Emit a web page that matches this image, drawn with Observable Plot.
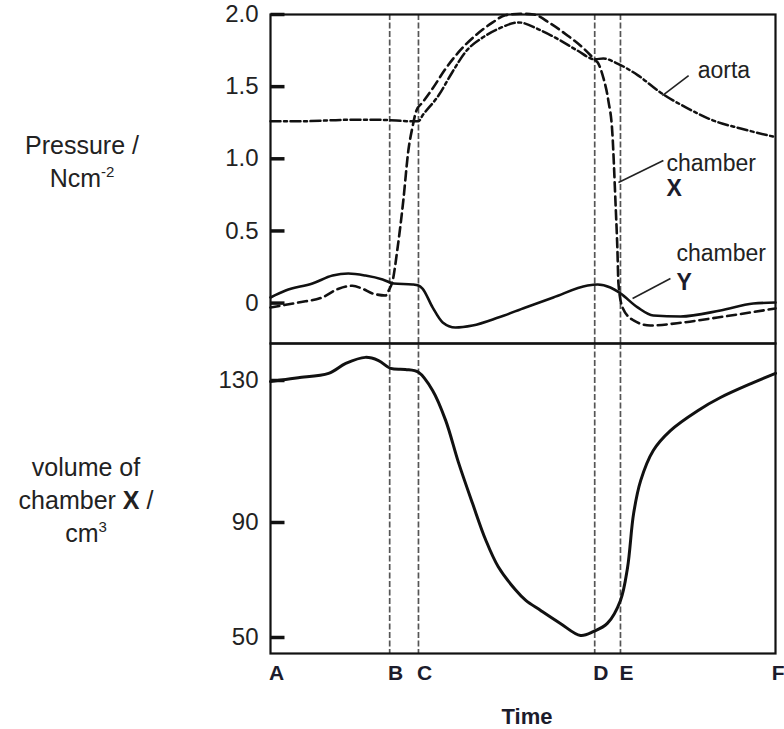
<!DOCTYPE html>
<html><head><meta charset="utf-8">
<script src="https://cdn.jsdelivr.net/npm/d3@7"></script>
<script src="https://cdn.jsdelivr.net/npm/@observablehq/plot@0.6"></script>
<style>
body{margin:0;background:#fff;font-family:"Liberation Sans",Arial,sans-serif;}
#wrap{position:relative;width:784px;height:729px;overflow:hidden;}
#top,#bot{position:absolute;left:0;}
#top{top:0;} #bot{top:343px;}
.lab{position:absolute;text-align:center;color:#222;font-size:25px;line-height:33px;white-space:nowrap;}
.lab sup{font-size:15px;vertical-align:0;position:relative;top:-10px;}
#time{position:absolute;left:467px;width:120px;top:704px;text-align:center;font-weight:bold;font-size:22px;color:#1c1c2c;}
</style></head><body>
<div id="wrap">
<div id="top"></div><div id="bot"></div>
<div class="lab" style="left:12px;top:129px;width:140px">Pressure /<br>Ncm<sup>-2</sup></div>
<div class="lab" style="left:6px;top:451px;width:160px">volume of<br>chamber <b>X</b> /<br>cm<sup>3</sup></div>
<div id="time">Time</div>
</div>
<script>
// ---- data (time in arbitrary units, A = 0 … F = 100) ----
const phaseT = [23.6, 29.3, 64.2, 69.3];               // B, C, D, E
const xTickPos = [0, 23.6, 29.3, 64.2, 69.3, 100];
const xTickLabels = ["A", "B", "C", "D", "E", "F"];
const pTicks = [0, 0.5, 1.0, 1.5, 2.0];
const pTickLabels = ["0", "0.5", "1.0", "1.5", "2.0"];
const vTicks = [50, 90, 130];

// aorta pressure / N cm^-2
const tAorta = [0, 5.9, 15.4, 21.8, 28.1, 29.3, 30.1, 33.3, 36.0, 38.6, 42.0, 45.1, 49.1, 53.5, 57.4, 60.8, 64.2, 65.9, 68.7, 72.7, 77.2, 82.6, 87.7, 93.1, 100];
const pAorta = [1.26, 1.26, 1.27, 1.27, 1.26, 1.26, 1.30, 1.44, 1.60, 1.74, 1.84, 1.90, 1.945, 1.89, 1.82, 1.75, 1.69, 1.695, 1.66, 1.58, 1.46, 1.35, 1.265, 1.21, 1.15];

// chamber X pressure
const tChamberX = [0, 5.5, 10.3, 13.5, 16.2, 18.2, 20.2, 22.8, 23.4, 24.2, 25.1, 26.3, 27.3, 28.1, 28.9, 30.1, 32.1, 34.7, 37.2, 40.6, 44.0, 46.5, 49.5, 52.1, 55.4, 58.8, 62.0, 64.2, 64.8, 65.9, 66.9, 67.7, 68.3, 68.7, 68.9, 69.7, 71.9, 75.2, 81.8, 88.5, 95.0, 100];
const pChamberX = [-0.03, 0.004, 0.04, 0.10, 0.12, 0.10, 0.067, 0.053, 0.087, 0.157, 0.365, 0.711, 1.058, 1.217, 1.335, 1.39, 1.487, 1.626, 1.737, 1.855, 1.945, 1.995, 2.005, 2.0, 1.938, 1.855, 1.765, 1.688, 1.667, 1.563, 1.403, 1.175, 0.711, 0.365, 0.136, -0.03, -0.12, -0.155, -0.134, -0.10, -0.065, -0.037];

// chamber Y pressure
const tChamberY = [0, 3.0, 8.3, 12.3, 15.4, 18.8, 22.2, 24.4, 28.1, 29.3, 30.1, 32.1, 34.1, 36.6, 40.0, 45.1, 50.5, 56.0, 62.8, 64.8, 67.3, 69.3, 72.7, 75.8, 81.2, 89.1, 95.6, 100];
const pChamberY = [0.039, 0.087, 0.136, 0.191, 0.205, 0.191, 0.164, 0.136, 0.129, 0.122, 0.101, -0.03, -0.134, -0.169, -0.155, -0.10, -0.03, 0.039, 0.122, 0.129, 0.108, 0.067, -0.03, -0.086, -0.093, -0.051, -0.003, 0.004];

// volume of chamber X / cm^3
const tVolume = [0, 3.0, 5.5, 11.5, 14.9, 18.8, 21.4, 23.8, 26.7, 29.3, 32.1, 34.7, 37.2, 40.0, 42.6, 45.1, 48.5, 50.5, 53.5, 57.4, 61.4, 64.0, 66.7, 69.3, 70.7, 71.9, 73.3, 75.8, 79.2, 84.6, 89.1, 95.6, 100];
const vVolume = [129.7, 130.3, 130.8, 132.0, 134.8, 136.5, 135.6, 133.4, 133.1, 132.3, 127.2, 118.7, 107.0, 95.4, 84.0, 74.6, 66.6, 63.0, 59.4, 54.9, 50.7, 52.1, 54.9, 62.9, 74.3, 92.5, 101.8, 110.3, 115.9, 121.5, 125.2, 129.4, 132.0];

// annotations
const labelNames = ["aorta", "chamber", "chamber"];
const labelT = [84.6, 78.4, 80.4];
const labelP = [1.61, 0.967, 0.344];
const boldNames = ["X", "Y"];
const boldT = [78.4, 80.4];
const boldP = [0.794, 0.143];
const leaderT1 = [77.6, 68.9, 71.7], leaderP1 = [1.438, 0.836, 0.032];
const leaderT2 = [82.8, 77.8, 79.2], leaderP2 = [1.577, 0.988, 0.17];

// ---- build tables ----
const rows = (ts, vs) => ts.map((t, i) => ({t, v: vs[i]}));
const aorta = rows(tAorta, pAorta);
const chX = rows(tChamberX, pChamberX);
const chY = rows(tChamberY, pChamberY);
const vol = rows(tVolume, vVolume);
const labels = labelNames.map((s, i) => ({s, t: labelT[i], v: labelP[i]}));
const bolds = boldNames.map((s, i) => ({s, t: boldT[i], v: boldP[i]}));
const leaders = leaderT1.map((t, i) => ({t1: t, v1: leaderP1[i], t2: leaderT2[i], v2: leaderP2[i]}));
const xTicksInner = xTickPos.slice(0, -1).map((t, i) => ({t, s: xTickLabels[i]}));
const xTickLast = [{t: xTickPos[xTickPos.length - 1], s: xTickLabels[xTickLabels.length - 1]}];
const pLab = new Map(pTicks.map((p, i) => [p, pTickLabels[i]]));

const FONT = "'Liberation Sans', Arial, sans-serif";
const INK = "#111";
const guide = {stroke: "#555", strokeWidth: 1.7, strokeDasharray: "6,2.5"};
// inward tick shape: a plain stroke of the vector's length
const stroke = {draw(context, l) { context.moveTo(0, 0); context.lineTo(0, -l); }};
const inTick = {frameAnchor: "left", rotate: 90, length: 14, anchor: "start", shape: stroke, stroke: INK, strokeWidth: 3.5, strokeLinecap: "butt"};

const topPlot = Plot.plot({
  width: 784, height: 343,
  marginLeft: 270, marginRight: 9, marginTop: 14, marginBottom: 0,
  x: {domain: [0, 100], axis: null},
  y: {domain: [-0.28, 2.0]},
  style: {fontSize: "24px", fontFamily: FONT, color: "#222", overflow: "visible", background: "transparent"},
  marks: [
    Plot.ruleX(phaseT, guide),
    Plot.vector(pTicks, {y: d => d, ...inTick}),
    Plot.axisY(pTicks, {tickSize: 0, tickPadding: 12, fill: "#222", tickFormat: d => pLab.get(d), label: null}),
    Plot.line(aorta, {x: "t", y: "v", curve: "monotone-x", stroke: INK, strokeWidth: 2.5, strokeDasharray: "10,3.5,3,3.5"}),
    Plot.line(chX, {x: "t", y: "v", curve: "monotone-x", stroke: INK, strokeWidth: 2.6, strokeDasharray: "9,5"}),
    Plot.line(chY, {x: "t", y: "v", curve: "monotone-x", stroke: INK, strokeWidth: 2.6}),
    Plot.link(leaders, {x1: "t1", y1: "v1", x2: "t2", y2: "v2", stroke: "#222", strokeWidth: 1.6}),
    Plot.text(labels, {x: "t", y: "v", text: "s", textAnchor: "start", fontSize: 23, fill: "#222"}),
    Plot.text(bolds, {x: "t", y: "v", text: "s", textAnchor: "start", fontSize: 23, fontWeight: "bold", fill: "#1c1c2c"}),
    Plot.frame({stroke: INK, strokeWidth: 2.2})
  ]
});
document.getElementById("top").appendChild(topPlot);

const botPlot = Plot.plot({
  width: 784, height: 386,
  marginLeft: 270, marginRight: 9, marginTop: 0, marginBottom: 76,
  x: {domain: [0, 100], axis: null},
  y: {type: "linear", domain: [44.4, 50, 90, 130, 140.4], range: [310, 294, 179, 37, 0]},
  style: {fontSize: "24px", fontFamily: FONT, color: "#222", overflow: "visible", background: "transparent"},
  marks: [
    Plot.ruleX(phaseT, guide),
    Plot.vector(vTicks, {y: d => d, ...inTick}),
    Plot.axisY(vTicks, {tickSize: 0, tickPadding: 12, fill: "#222", label: null}),
    Plot.text(xTicksInner, {x: "t", text: "s", frameAnchor: "bottom", dy: 26, dx: 6, fontSize: 21, fontWeight: "bold", fill: "#1c1c2c"}),
    Plot.text(xTickLast, {x: "t", text: "s", frameAnchor: "bottom", dy: 26, dx: 9, textAnchor: "end", fontSize: 21, fontWeight: "bold", fill: "#1c1c2c"}),
    Plot.line(vol, {x: "t", y: "v", curve: "catmull-rom", stroke: INK, strokeWidth: 3}),
    Plot.frame({stroke: INK, strokeWidth: 2.2})
  ]
});
document.getElementById("bot").appendChild(botPlot);
</script>
</body></html>
